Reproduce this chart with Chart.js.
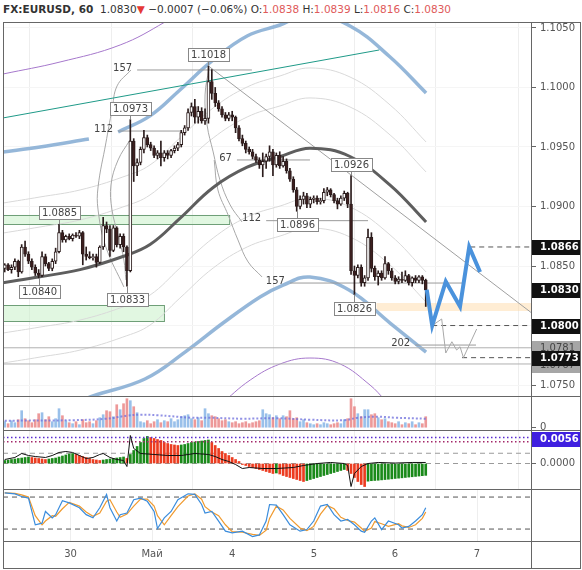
<!DOCTYPE html>
<html>
<head>
<meta charset="utf-8">
<script src="https://cdn.jsdelivr.net/npm/chart.js@4.4.1/dist/chart.umd.min.js"></script>
<style>
  body { margin: 0; background: #fff; width: 582px; height: 570px; overflow: hidden; position: relative; font-family: 'DejaVu Sans', sans-serif; }
  .pane { position: absolute; left: 3px; width: 577px; }
  .ln { position: absolute; background: #666; }
  #title { position: absolute; left: 3px; top: 3px; font-size: 10.5px; color: #333; white-space: nowrap; }
  #title .r { color: #e05a5a; }
</style>
</head>
<body>
<div id="title"><b>FX:EURUSD, 60</b>&nbsp; 1.0830<span style="color:#e53935">▼</span> −0.0007 (−0.06%) O:<span class="r">1.0838</span> H:<span class="r">1.0839</span> L:<span class="r">1.0816</span> C:<span class="r">1.0830</span></div>
<div class="pane" style="top:22px;height:374px"><canvas id="mainChart"></canvas></div>
<div class="pane" style="top:396px;height:34px"><canvas id="volChart"></canvas></div>
<div class="pane" style="top:430px;height:59px"><canvas id="macdChart"></canvas></div>
<div class="pane" style="top:489px;height:79px"><canvas id="stochChart"></canvas></div>
<div class="ln" style="left:3px;top:22px;width:578px;height:1px"></div>
<div class="ln" style="left:3px;top:396px;width:578px;height:1px"></div>
<div class="ln" style="left:3px;top:430px;width:578px;height:1px"></div>
<div class="ln" style="left:3px;top:489px;width:578px;height:1px"></div>
<div class="ln" style="left:3px;top:541px;width:578px;height:1px"></div>
<div class="ln" style="left:3px;top:568px;width:578px;height:1px"></div>
<div class="ln" style="left:3px;top:22px;width:1px;height:547px"></div>
<div class="ln" style="left:531px;top:22px;width:1px;height:547px"></div>
<div class="ln" style="left:580px;top:22px;width:1px;height:547px"></div>
<script>
// time axis (bar index units), day labels
const dayTicks = [19.9, 43.9, 67.5, 91.6, 115.4, 139.6];
const dayLabels = ['30', 'Май', '4', '5', '6', '7'];
const priceTicks = [1.0750, 1.0800, 1.0850, 1.0900, 1.0950, 1.1000, 1.1050];

// hourly candles
const opens = [
  1.0848,1.0851,1.0847,1.0849,1.0854,1.0845,1.0866,1.0860,1.0854,1.0849,
  1.0844,1.0842,1.0858,1.0852,1.0848,1.0854,1.0862,1.0878,1.0872,1.0875,
  1.0873,1.0876,1.0875,1.0878,1.0860,1.0858,1.0857,1.0858,1.0853,1.0866,
  1.0884,1.0881,1.0863,1.0882,1.0868,1.0875,1.0866,1.0846,1.0955,1.0934,
  1.0937,1.0948,1.0958,1.0952,1.0949,1.0943,1.0945,1.0941,1.0945,1.0943,
  1.0947,1.0949,1.0952,1.0962,1.0966,1.0979,1.0984,1.0975,1.0980,1.0972,
  1.0974,1.1005,1.0995,1.0987,1.0982,1.0977,1.0974,1.0977,1.0975,1.0966,
  1.0957,1.0953,1.0948,1.0946,1.0942,1.0939,1.0935,1.0938,1.0942,1.0946,
  1.0935,1.0943,1.0934,1.0938,1.0930,1.0923,1.0914,1.0900,1.0906,1.0909,
  1.0902,1.0906,1.0907,1.0904,1.0905,1.0912,1.0914,1.0910,1.0905,1.0902,
  1.0907,1.0911,1.0902,1.0846,1.0842,1.0849,1.0836,1.0840,1.0874,1.0848,
  1.0841,1.0844,1.0840,1.0852,1.0846,1.0840,1.0837,1.0839,1.0838,1.0842,
  1.0836,1.0840,1.0838,1.0841,1.0838
];
const highs = [
  1.0852,1.0852,1.0851,1.0856,1.0855,1.0868,1.0871,1.0862,1.0856,1.0851,
  1.0847,1.0862,1.0860,1.0853,1.0856,1.0865,1.0885,1.0880,1.0876,1.0877,
  1.0877,1.0878,1.0880,1.0879,1.0866,1.0862,1.0860,1.0860,1.0867,1.0891,
  1.0887,1.0884,1.0884,1.0883,1.0877,1.0877,1.0867,1.0973,1.0957,1.0940,
  1.0950,1.0964,1.0960,1.0954,1.0951,1.0947,1.0955,1.0947,1.0947,1.0948,
  1.0951,1.0954,1.0964,1.0968,1.0982,1.0987,1.0990,1.0984,1.0983,1.0982,
  1.1018,1.1015,1.1000,1.0989,1.0984,1.0979,1.0979,1.0980,1.0976,1.0968,
  1.0960,1.0955,1.0950,1.0948,1.0944,1.0941,1.0945,1.0944,1.0951,1.0948,
  1.0945,1.0946,1.0942,1.0940,1.0932,1.0925,1.0916,1.0909,1.0912,1.0911,
  1.0908,1.0909,1.0909,1.0907,1.0915,1.0916,1.0915,1.0911,1.0907,1.0909,
  1.0913,1.0912,1.0926,1.0850,1.0851,1.0851,1.0842,1.0881,1.0878,1.0850,
  1.0846,1.0846,1.0858,1.0853,1.0848,1.0842,1.0841,1.0845,1.0846,1.0843,
  1.0841,1.0842,1.0842,1.0842,1.0839
];
const lows = [
  1.0845,1.0846,1.0844,1.0847,1.0841,1.0844,1.0858,1.0852,1.0847,1.0842,
  1.0840,1.0841,1.0850,1.0846,1.0846,1.0852,1.0861,1.0870,1.0870,1.0872,
  1.0871,1.0874,1.0873,1.0851,1.0855,1.0856,1.0855,1.0849,1.0852,1.0864,
  1.0878,1.0858,1.0862,1.0866,1.0865,1.0862,1.0833,1.0845,1.0921,1.0926,
  1.0935,1.0945,1.0950,1.0947,1.0941,1.0940,1.0934,1.0938,1.0940,1.0941,
  1.0945,1.0947,1.0950,1.0960,1.0964,1.0976,1.0970,1.0970,1.0970,1.0969,
  1.0970,1.0990,1.0984,1.0980,1.0975,1.0972,1.0972,1.0972,1.0962,1.0955,
  1.0951,1.0945,1.0944,1.0940,1.0937,1.0932,1.0925,1.0932,1.0938,1.0926,
  1.0933,1.0932,1.0933,1.0928,1.0921,1.0912,1.0896,1.0898,1.0902,1.0899,
  1.0899,1.0903,1.0902,1.0902,1.0903,1.0909,1.0908,1.0903,1.0898,1.0901,
  1.0905,1.0899,1.0843,1.0826,1.0840,1.0833,1.0833,1.0838,1.0845,1.0838,
  1.0834,1.0838,1.0839,1.0843,1.0838,1.0835,1.0835,1.0836,1.0837,1.0834,
  1.0833,1.0836,1.0836,1.0835,1.0816
];
const closes = [
  1.0851,1.0847,1.0849,1.0854,1.0845,1.0866,1.0860,1.0854,1.0849,1.0844,
  1.0842,1.0858,1.0852,1.0848,1.0854,1.0862,1.0878,1.0872,1.0875,1.0873,
  1.0876,1.0875,1.0878,1.0860,1.0858,1.0857,1.0858,1.0853,1.0866,1.0884,
  1.0881,1.0863,1.0882,1.0868,1.0875,1.0866,1.0846,1.0955,1.0934,1.0937,
  1.0948,1.0958,1.0952,1.0949,1.0943,1.0945,1.0941,1.0945,1.0943,1.0947,
  1.0949,1.0952,1.0962,1.0966,1.0979,1.0984,1.0975,1.0980,1.0972,1.0974,
  1.1005,1.0995,1.0987,1.0982,1.0977,1.0974,1.0977,1.0975,1.0966,1.0957,
  1.0953,1.0948,1.0946,1.0942,1.0939,1.0935,1.0938,1.0942,1.0946,1.0935,
  1.0943,1.0934,1.0938,1.0930,1.0923,1.0914,1.0900,1.0906,1.0909,1.0902,
  1.0906,1.0907,1.0904,1.0905,1.0912,1.0914,1.0910,1.0905,1.0902,1.0907,
  1.0911,1.0902,1.0846,1.0842,1.0849,1.0836,1.0840,1.0874,1.0848,1.0841,
  1.0844,1.0840,1.0852,1.0846,1.0840,1.0837,1.0839,1.0838,1.0842,1.0836,
  1.0840,1.0838,1.0841,1.0838,1.0830
];

// bands (sampled along the curves)
const bandX = [0, 10.9, 22.7, 35.3, 43.3, 52.1, 61.9, 71.9, 81.6, 90.4, 102.2, 114.0, 124.6];
const midLine = [1.0836, 1.0841, 1.0847, 1.0858, 1.0868, 1.0890, 1.0916, 1.0933, 1.0942, 1.0949, 1.0942, 1.0918, 1.0887];
const upperIn1 = [1.08777, 1.08828, 1.08887, 1.08996, 1.09097, 1.09324, 1.09576, 1.09752, 1.09845, 1.09912, 1.09836, 1.09601, 1.09290];
const upperIn2 = [1.09029, 1.09080, 1.09139, 1.09248, 1.09349, 1.09576, 1.09828, 1.10004, 1.10097, 1.10164, 1.10088, 1.09853, 1.09542];
const lowerIn1 = [1.07937, 1.07987, 1.08046, 1.08156, 1.08256, 1.08483, 1.08735, 1.08912, 1.09004, 1.09071, 1.08996, 1.08761, 1.08450];
const lowerIn2 = [1.07685, 1.07735, 1.07794, 1.07903, 1.08004, 1.08231, 1.08483, 1.08660, 1.08752, 1.08819, 1.08744, 1.08508, 1.08198];
const upperBlueX = [0, 10.9, 25.3, 29.5, 33.9, 43.3, 52.1, 61.9, 71.9, 81.6, 90.4, 102.2, 114.0, 124.6];
const upperBlue = [1.09458, 1.09500, 1.09567, null, 1.09626, 1.09761, 1.09979, 1.10231, 1.10433, 1.10525, 1.10618, 1.10517, 1.10256, 1.09954];
const lowerBlueX = [19.7, 26.5, 41.8, 53.6, 64.8, 75.7, 82.5, 90.4, 101.9, 114.0, 124.6];
const lowerBlue = [1.07332, 1.07408, 1.07551, 1.07777, 1.08021, 1.08240, 1.08340, 1.08408, 1.08298, 1.08021, 1.07777];
const upperPurpleX = [0, 16.8, 34.5, 47.7, 55.1];
const upperPurple = [1.10113, 1.10214, 1.10357, 1.10550, 1.10693];
const lowerPurpleX = [63.9, 72.8, 81.6, 90.4, 99.3, 108.1, 112.5];
const lowerPurple = [1.07332, 1.07542, 1.07677, 1.07727, 1.07677, 1.07500, 1.07374];

// drawings
const zoneX0 = [0, 0];
const zoneX1 = [66.6, 47.4];
const zoneTop = [1.08929, 1.08172];
const zoneBottom = [1.08853, 1.08038];
const orangeX0 = 110;
const orangeTop = 1.08189;
const orangeBottom = 1.08122;
const tealX = [0, 110.8];
const tealY = [1.09744, 1.10315];
const diagX = [60.5, 155.5];
const diagY = [1.1018, 1.0811];
const fibNames = ['157', '112', '67', '112', '157', '202'];
const fibPrices = [1.10147, 1.09634, 1.09391, 1.08881, 1.08357, 1.07836];
const fibX0 = [39.5, 33.9, 68.9, 77.5, 84.5, 121.4];
const fibX1 = [73.3, 52.7, 90.4, 107.5, 135.2, 139.3];
const arcL1X = [37.7, 33.6, 32.1, 30.3, 28.0, 28.0, 30.3, 35.6];
const arcL1Y = [1.10147, 1.10013, 1.09811, 1.09534, 1.09164, 1.08971, 1.08660, 1.08324];
const arcL2X = [37.4, 33.9, 31.8, 32.1, 33.9, 35.6, 36.2];
const arcL2Y = [1.09559, 1.09391, 1.09181, 1.08971, 1.08761, 1.08550, 1.08382];
const arcR1X = [60.7, 59.5, 60.1, 61.9, 63.9, 66.9, 70.4];
const arcR1Y = [1.10164, 1.09937, 1.09685, 1.09458, 1.09223, 1.09013, 1.08870];
const arcR2X = [62.2, 63.3, 66.3, 69.2, 72.2, 76.3];
const arcR2Y = [1.09391, 1.09139, 1.08929, 1.08719, 1.08534, 1.08408];
const supportLevels = [1.07813, 1.07677];
const dashPrices = [1.0866, 1.0800, 1.0773];
const dashX0 = [137.6, 126.4, 135.2];
const fcBlueX = [124.8, 126.4, 130.4, 134.6, 137.3, 140.5];
const fcBlueY = [1.0830, 1.0800, 1.0837, 1.0816, 1.0866, 1.0845];
const fcGrayX = [126.4, 129.2, 130.4, 132.2, 133.6, 134.6, 135.6, 139.5];
const fcGrayY = [1.0800, 1.08055, 1.07769, 1.07864, 1.07794, 1.07822, 1.0773, 1.07971];
const calloutBars = [60, 37, 16, 10, 36, 102, 86, 103];
const calloutPrices = [1.1018, 1.0973, 1.0885, 1.0840, 1.0833, 1.0926, 1.0896, 1.0826];
const calloutSide = ['up', 'up', 'up', 'down', 'down', 'up', 'down', 'down'];
const markPrices = [1.0781, 1.0767, 1.0866, 1.0830, 1.0800, 1.0773];
const markStyle = ['gray', 'gray', 'black', 'black', 'black', 'black'];

// volume
const volumes = [
  6,4,7,5,8,17,9,7,5,8, 14,15,8,11,6,9,19,12,7,5, 4,6,3,8,5,6,4,7,10,13,
  17,16,11,23,18,24,29,27,21,15, 6,5,7,4,6,8,5,7,6,9, 6,8,11,12,13,9,8,10,7,19,
  14,12,11,9,7,8,6,5,6,4, 5,6,4,5,6,7,18,14,13,10, 12,9,12,11,17,9,10,6,8,5,
  4,3,4,3,5,4,3,4,5,4, 8,9,29,21,14,11,18,18,13,14, 10,8,9,6,5,4,6,3,5,4, 6,3,5,4,11
];
const volMaK = [0, 20, 30, 36, 40, 45, 55, 60, 70, 80, 90, 100, 104, 110, 115, 124];
const volMaV = [7, 7.5, 9, 12, 13, 12.5, 10, 10, 9, 9.5, 8, 7.5, 10, 11, 10, 9];

// MACD
const macdHist = [
  0.00065,0.00075,0.00086,0.00097,0.00108,0.00118,0.00129,0.00140,0.00129,0.00118,
  0.00108,0.00097,0.00086,0.00097,0.00108,0.00118,0.00140,0.00161,0.00183,0.00204,
  0.00215,0.00194,0.00172,0.00150,0.00129,0.00108,0.00086,0.00075,0.00065,0.00075,
  0.00086,0.00097,0.00108,0.00118,0.00129,0.00140,0.00108,0.00194,0.00280,0.00366,
  0.00452,0.00538,0.00581,0.00559,0.00538,0.00516,0.00495,0.00452,0.00430,0.00409,
  0.00398,0.00387,0.00398,0.00409,0.00430,0.00452,0.00462,0.00473,0.00484,0.00495,
  0.00505,0.00452,0.00387,0.00323,0.00258,0.00215,0.00172,0.00129,0.00086,0.00043,
  -0.00022,-0.00043,-0.00065,-0.00086,-0.00108,-0.00129,-0.00150,-0.00172,-0.00194,-0.00215,
  -0.00204,-0.00226,-0.00258,-0.00280,-0.00301,-0.00323,-0.00344,-0.00366,-0.00387,-0.00366,
  -0.00344,-0.00323,-0.00301,-0.00280,-0.00258,-0.00237,-0.00215,-0.00194,-0.00172,-0.00150,
  -0.00129,-0.00150,-0.00215,-0.00301,-0.00387,-0.00452,-0.00495,-0.00380,-0.00370,-0.00365,
  -0.00360,-0.00352,-0.00345,-0.00338,-0.00330,-0.00322,-0.00315,-0.00308,-0.00300,-0.00292,
  -0.00285,-0.00278,-0.00270,-0.00262,-0.00255
];
const macdLineK = [0,3,5,7,9,12,14,16,18,20,22,24,26,28,29,31,33,35,36,37,38,40,44,48,52,56,60,62,64,66,68,70,72,76,80,85,88,92,96,100,101,102,103,105,107,110,115,120,124];
const macdLineV = [0.00086,0.00129,0.00215,0.00172,0.00150,0.00129,0.00172,0.00237,0.00258,0.00237,0.00172,0.00108,0.00129,0.00194,0.00215,0.00129,0.00086,0.00065,-0.00065,0.00602,0.00323,0.00215,0.00194,0.00172,0.00172,0.00215,0.00194,0.00150,0.00086,0.00043,-0.00022,-0.00108,-0.00086,-0.00108,-0.00108,-0.00086,-0.00043,0,0.00022,0,-0.00043,-0.00495,-0.00215,-0.00065,0,0.00022,0.0001,0.00022,0.00022];
const macdLevels = [0.0022, 0];
const macdMarks = [0.0056, 0.0047];

// stochastic
const stochK = [0,3,5,7,9,11,12,14,15,17,19,22,24,26,28,30,31,33,34,36,38,40,42,44,45,47,49,51,54,56,58,59,61,63,65,67,70,73,75,77,78,80,82,84,87,89,91,93,95,97,99,101,103,105,106,108,109,111,113,116,117,119,121,123,124];
const stochBlue = [88,86,81,78,28,31,53,41,47,73,69,60,47,41,60,85,60,35,47,50,75,78,72,53,21,41,53,75,86,85,66,50,53,35,16,13,16,6,9,35,66,65,47,28,16,19,35,63,66,47,35,38,28,16,14,35,41,19,35,28,22,25,35,47,60];
const stochOrange = [88,87,84,80,45,28,35,45,44,58,70,63,52,44,50,72,75,52,42,48,63,76,76,63,45,28,45,62,82,86,76,62,52,45,28,15,14,10,8,18,40,63,56,40,22,17,25,48,64,58,42,36,33,22,16,22,34,30,25,30,26,23,28,40,52];
const stochLevels = [80, 20];

const X_MIN = 0, X_MAX = 155.5;
const FONT = '"DejaVu Sans", sans-serif';

function pts(xv, yv) {
    return xv.map((x, i) => ({ x: x, y: yv[i] }));
}

function lineDs(data, color, width, extra) {
    return Object.assign({
        type: 'line', data: data, borderColor: color, borderWidth: width,
        pointRadius: 0, fill: false, tension: 0, spanGaps: false, order: 5
    }, extra || {});
}

function timeAxis(showLabels) {
    return {
        type: 'linear', min: X_MIN, max: X_MAX, offset: false,
        afterBuildTicks: s => { s.ticks = dayTicks.map(v => ({ value: v })); },
        afterFit: s => { s.height = showLabels ? 27 : 0; s.paddingLeft = 0; s.paddingRight = 0; },
        grid: { color: '#eeeeee', drawTicks: false },
        border: { display: false },
        ticks: {
            display: showLabels, autoSkip: false, maxRotation: 0, padding: 7,
            color: '#555', font: { family: FONT, size: 10 },
            callback: (v, i) => dayLabels[i]
        }
    };
}

function valueAxis(min, max, ticks, fmt, gridColor) {
    return {
        position: 'right', min: min, max: max,
        afterBuildTicks: s => { s.ticks = ticks.map(v => ({ value: v })); },
        afterFit: s => { s.width = 49; s.paddingTop = 0; s.paddingBottom = 0; },
        grid: { color: gridColor, tickColor: '#666', tickLength: 5, drawOnChartArea: gridColor !== null },
        border: { display: false },
        ticks: { display: ticks.length > 0, padding: 4, color: '#555', font: { family: FONT, size: 10 }, callback: fmt }
    };
}

const baseOptions = {
    responsive: true, maintainAspectRatio: false, animation: false,
    layout: { padding: 0 },
    events: [],
    plugins: { legend: { display: false }, tooltip: { enabled: false } }
};

// zones behind candles
const zonesPlugin = {
    id: 'zones',
    beforeDatasetsDraw(chart) {
        const { ctx, chartArea, scales: { x, y } } = chart;
        ctx.save();
        ctx.beginPath();
        ctx.rect(chartArea.left, chartArea.top, chartArea.width, chartArea.height);
        ctx.clip();
        zoneX0.forEach((x0, i) => {
            const l = x.getPixelForValue(x0), r = x.getPixelForValue(zoneX1[i]);
            const t = y.getPixelForValue(zoneTop[i]), b = y.getPixelForValue(zoneBottom[i]);
            ctx.fillStyle = 'rgba(200, 240, 200, 0.55)';
            ctx.fillRect(l, t, r - l, b - t);
            ctx.strokeStyle = '#6f9f78';
            ctx.lineWidth = 1;
            ctx.strokeRect(l + 0.5, Math.round(t) + 0.5, r - l, Math.round(b - t));
        });
        const ol = x.getPixelForValue(orangeX0);
        const ot = y.getPixelForValue(orangeTop), ob = y.getPixelForValue(orangeBottom);
        ctx.fillStyle = 'rgba(255, 214, 160, 0.45)';
        ctx.fillRect(ol, ot, chartArea.right - ol, ob - ot);
        ctx.restore();
    }
};

// fib labels and price callouts
const labelsPlugin = {
    id: 'labels',
    afterDatasetsDraw(chart) {
        const { ctx, scales: { x, y } } = chart;
        ctx.save();
        ctx.font = '10px ' + FONT;
        ctx.textBaseline = 'middle';
        ctx.fillStyle = '#444';
        ctx.textAlign = 'right';
        fibNames.forEach((n, i) => {
            ctx.fillText(n, x.getPixelForValue(fibX0[i]) - 5, y.getPixelForValue(fibPrices[i]) - 2);
        });
        ctx.textAlign = 'center';
        calloutPrices.forEach((p, i) => {
            const px = Math.round(x.getPixelForValue(calloutBars[i] + 0.5)) + 0.5;
            const py = y.getPixelForValue(p);
            const up = calloutSide[i] === 'up';
            const text = p.toFixed(4);
            const w = Math.round(ctx.measureText(text).width) + 6, h = 13;
            const by = Math.round(up ? py - 5 - h : py + 7) + 0.5;
            ctx.strokeStyle = '#888';
            ctx.lineWidth = 1;
            ctx.beginPath();
            ctx.moveTo(px, py);
            ctx.lineTo(px, up ? by + h : by);
            ctx.stroke();
            ctx.fillStyle = '#fff';
            ctx.fillRect(Math.round(px - w / 2) + 0.5, by, w, h);
            ctx.strokeRect(Math.round(px - w / 2) + 0.5, by, w, h);
            ctx.fillStyle = '#444';
            ctx.fillText(text, px, by + h / 2 + 0.5);
        });
        ctx.restore();
    }
};

// price boxes on the right axis
function axisMarks(prices, styles, colors) {
    return {
        id: 'axisMarks',
        afterDraw(chart) {
            const { ctx, chartArea, scales: { y } } = chart;
            const left = chartArea.right + 1, w = chart.width - left;
            ctx.save();
            ctx.textBaseline = 'middle';
            ctx.textAlign = 'left';
            prices.forEach((p, i) => {
                let py = Math.round(y.getPixelForValue(p));
                py = Math.max(py, chartArea.top + 9);
                const dark = styles[i] !== 'gray';
                ctx.fillStyle = colors[styles[i]];
                ctx.fillRect(left, py - 7, w, 15);
                ctx.fillStyle = dark ? '#fff' : '#444';
                ctx.font = (dark ? 'bold ' : '') + '10px ' + FONT;
                ctx.fillText(p.toFixed(4), left + 8, py + 0.5);
            });
            ctx.restore();
        }
    };
}

function initMain() {
    const candleX = opens.map((_, k) => k + 0.5);
    const up = opens.map((o, k) => closes[k] >= o);
    const ctx = document.getElementById('mainChart').getContext('2d');
    const full = v => pts([X_MIN, X_MAX], [v, v]);
    const datasets = [
        {
            label: 'wicks', data: candleX.map((x, k) => ({ x: x, y: [lows[k], highs[k]] })),
            backgroundColor: '#2b1c1c', barThickness: 1, grouped: false, order: 1
        },
        {
            label: 'bodies', data: candleX.map((x, k) => ({ x: x, y: [opens[k], closes[k]] })),
            backgroundColor: up.map(u => u ? '#ffffff' : '#3d1f1f'), borderColor: '#2b1c1c',
            borderWidth: 1, borderSkipped: false, barThickness: 3, grouped: false, order: 0
        },
        lineDs(pts(bandX, upperIn1), '#d9d9d9', 1, { tension: 0.4, order: 9 }),
        lineDs(pts(bandX, upperIn2), '#d9d9d9', 1, { tension: 0.4, order: 9 }),
        lineDs(pts(bandX, lowerIn1), '#d9d9d9', 1, { tension: 0.4, order: 9 }),
        lineDs(pts(bandX, lowerIn2), '#d9d9d9', 1, { tension: 0.4, order: 9 }),
        lineDs(pts(upperPurpleX, upperPurple), '#a678cc', 1, { tension: 0.4, order: 9 }),
        lineDs(pts(lowerPurpleX, lowerPurple), '#a678cc', 1, { tension: 0.4, order: 9 }),
        lineDs(pts(upperBlueX, upperBlue), 'rgba(130, 170, 210, 0.85)', 3.5, { tension: 0.4, order: 8 }),
        lineDs(pts(lowerBlueX, lowerBlue), 'rgba(130, 170, 210, 0.85)', 3.5, { tension: 0.4, order: 8 }),
        lineDs(pts(bandX, midLine), '#5e5e5e', 3, { tension: 0.4, order: 3 }),
        lineDs(pts(tealX, tealY), '#1f9a88', 1, { order: 4 }),
        lineDs(pts(diagX, diagY), '#a0a0a0', 1),
        lineDs(pts(arcL1X, arcL1Y), '#a8a8a8', 1, { tension: 0.4 }),
        lineDs(pts(arcL2X, arcL2Y), '#a8a8a8', 1, { tension: 0.4 }),
        lineDs(pts(arcR1X, arcR1Y), '#a8a8a8', 1, { tension: 0.4 }),
        lineDs(pts(arcR2X, arcR2Y), '#a8a8a8', 1, { tension: 0.4 })
    ];
    fibPrices.forEach((p, i) => datasets.push(lineDs(pts([fibX0[i], fibX1[i]], [p, p]), '#9a9a9a', 1)));
    supportLevels.forEach(p => datasets.push(lineDs(full(p), '#b0b0b0', 1)));
    dashPrices.forEach((p, i) => datasets.push(lineDs(pts([dashX0[i], X_MAX], [p, p]), '#555', 1, { borderDash: [5, 4] })));
    datasets.push(lineDs(pts(fcGrayX, fcGrayY), '#a8a8a8', 1, { order: -1 }));
    datasets.push(lineDs(pts(fcBlueX, fcBlueY), '#4a92dc', 4, { order: -2, borderJoinStyle: 'miter' }));

    new Chart(ctx, {
        type: 'bar',
        data: { datasets: datasets },
        options: Object.assign({}, baseOptions, {
            scales: {
                x: timeAxis(false),
                y: valueAxis(1.07408, 1.1055, priceTicks, v => v.toFixed(4), '#f5f5f5')
            }
        }),
        plugins: [zonesPlugin, labelsPlugin, axisMarks(markPrices, markStyle, { gray: '#a6a6a6', black: '#111111' })]
    });
}

function initVolume() {
    const ctx = document.getElementById('volChart').getContext('2d');
    new Chart(ctx, {
        type: 'bar',
        data: {
            datasets: [
                {
                    data: volumes.map((v, k) => ({ x: k + 0.5, y: v })),
                    backgroundColor: volumes.map((_, k) => closes[k] >= opens[k] ? 'rgba(110, 165, 225, 0.7)' : 'rgba(230, 110, 110, 0.7)'),
                    barThickness: 2, order: 1
                },
                lineDs(pts(volMaK.map(k => k + 0.5), volMaV), 'rgba(110, 110, 220, 0.75)', 2, { borderDash: [2, 2], tension: 0.4, order: 0 })
            ]
        },
        options: Object.assign({}, baseOptions, {
            scales: {
                x: timeAxis(false),
                y: valueAxis(-2.3, 31.7, [0], v => String(v), null)
            }
        })
    });
}

function initMacd() {
    const ctx = document.getElementById('macdChart').getContext('2d');
    const colors = macdHist.map((v, k) => (k === 0 || v >= macdHist[k - 1]) ? '#1a8a1a' : '#ec3c20');
    const datasets = [
        {
            data: macdHist.map((v, k) => ({ x: k + 0.5, y: v })),
            backgroundColor: colors, barThickness: 2, order: 2
        },
        lineDs(pts(macdLineK.map(k => k + 0.5), macdLineV), '#111', 1, { order: 0 })
    ];
    macdLevels.forEach(v => datasets.push(lineDs(pts([X_MIN, X_MAX], [v, v]), '#9a9a9a', 1, { borderDash: [5, 4], order: 3 })));
    datasets.push(lineDs(pts([X_MIN, X_MAX], [macdMarks[0], macdMarks[0]]), '#5a2bd0', 1.5, { borderDash: [1.5, 2.5], order: 1 }));
    datasets.push(lineDs(pts([X_MIN, X_MAX], [macdMarks[1], macdMarks[1]]), '#a3286a', 1.5, { borderDash: [1.5, 2.5], order: 1 }));
    new Chart(ctx, {
        type: 'bar',
        data: { datasets: datasets },
        options: Object.assign({}, baseOptions, {
            scales: {
                x: timeAxis(false),
                y: valueAxis(-0.00548, 0.0072, [0], v => v.toFixed(4), null)
            }
        }),
        plugins: [axisMarks([macdMarks[0]], ['violet'], { violet: '#3f1fe0' })]
    });
}

function initStoch() {
    const ctx = document.getElementById('stochChart').getContext('2d');
    const xs = stochK.map(k => k + 0.5);
    const datasets = [
        lineDs(pts(xs, stochOrange), '#f09a2e', 1.2, { order: 1 }),
        lineDs(pts(xs, stochBlue), '#3a8cdc', 1.2, { order: 0 })
    ];
    stochLevels.forEach(v => datasets.push(lineDs(pts([X_MIN, X_MAX], [v, v]), '#555', 1, { borderDash: [5, 4], order: 2 })));
    new Chart(ctx, {
        type: 'line',
        data: { datasets: datasets },
        options: Object.assign({}, baseOptions, {
            scales: {
                x: timeAxis(true),
                y: valueAxis(-2.4, 95.1, [], v => '', null)
            }
        })
    });
}

initMain();
initVolume();
initMacd();
initStoch();
</script>
</body>
</html>
